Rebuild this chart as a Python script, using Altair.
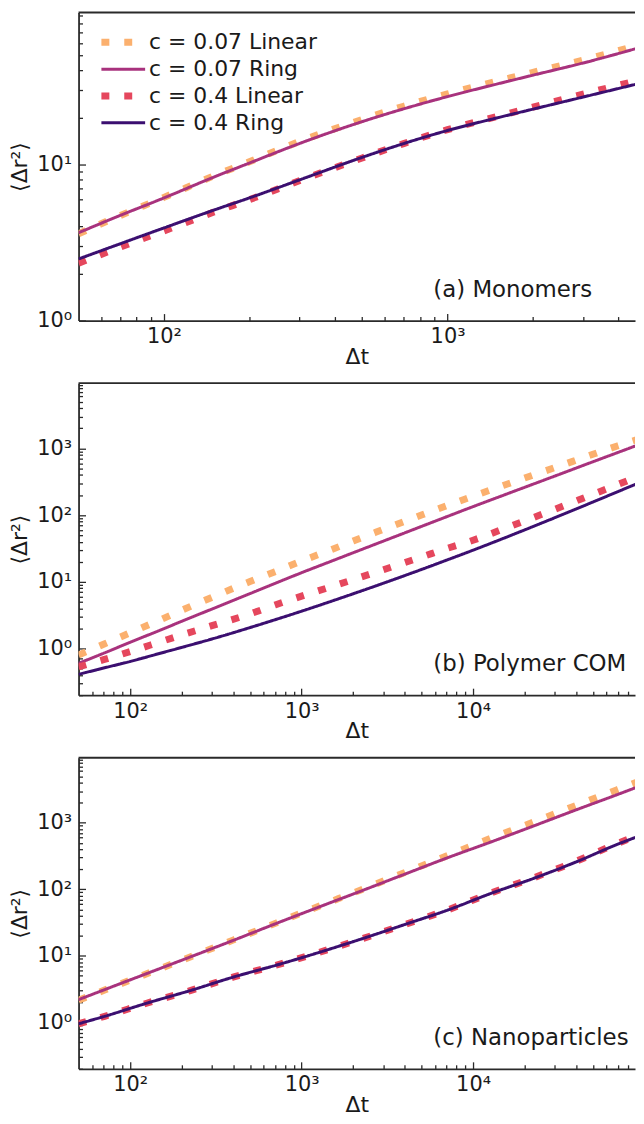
import altair as alt
import pandas as pd

FONT = "DejaVu Sans"
INK = "#1a1a1a"

SERIES = ["c = 0.07 Linear", "c = 0.07 Ring", "c = 0.4 Linear", "c = 0.4 Ring"]
COLORS = ["#fbb06e", "#a8327d", "#e5475d", "#3b0f70"]
DASHES = [[8, 15], [1, 0], [8, 15], [1, 0]]
WIDTHS = [7, 3, 7, 3]

# ---- panel (a) Monomers ----
t_a = [50, 70, 100, 150, 200, 300, 500, 700, 1000, 1500, 2000, 3000, 5000]
a_lin07 = [3.6, 4.7, 6.15, 8.45, 10.4, 14.0, 19.4, 23.6, 28.3, 34.2, 38.9, 46.5, 60.0]
a_ring07 = [3.65, 4.71, 6.1, 8.3, 10.2, 13.6, 18.8, 22.7, 27.2, 32.8, 37.3, 44.6, 57.5]
a_lin04 = [2.33, 2.95, 3.75, 4.95, 5.95, 7.85, 11.0, 13.6, 16.7, 20.3, 23.3, 28.2, 35.5]
a_ring04 = [2.48, 3.1, 3.92, 5.1, 6.1, 7.95, 11.1, 13.6, 16.5, 19.9, 22.6, 27.0, 33.8]

# ---- panel (b) Polymer COM ----
t_b = [50, 70, 100, 150, 200, 300, 500, 700, 1000, 1500, 2000, 3000, 5000, 7000,
       10000, 15000, 20000, 30000, 50000, 70000, 100000]
b_lin07 = [0.8, 1.16, 1.72, 2.7, 3.75, 5.85, 10.1, 14.2, 20.5, 30.5, 41, 61, 100, 138,
           192, 278, 360, 515, 815, 1095, 1465]
b_ring07 = [0.6, 0.85, 1.24, 1.89, 2.56, 3.91, 6.67, 9.47, 13.7, 20.5, 27.3, 40.8, 67.6, 94.4,
            134, 198, 261, 385, 630, 869, 1225]
b_lin04 = [0.53, 0.68, 0.9, 1.26, 1.6, 2.2, 3.3, 4.5, 6.1, 8.5, 10.8, 15.2, 23.5, 31.5,
           42, 62, 82, 122, 205, 288, 415]
b_ring04 = [0.41, 0.51, 0.64, 0.85, 1.04, 1.39, 2.06, 2.7, 3.63, 5.14, 6.62, 9.53, 15.3, 21.1,
            29.8, 44.7, 60, 91.4, 157, 225, 330]

# ---- panel (c) Nanoparticles ----
t_c = [50, 71, 126, 224, 398, 708, 1259, 2290, 4070, 7270, 12600, 22400, 39800, 69300, 95000]
c_lin07 = [2.15, 3.05, 5.4, 9.6, 17.2, 31, 55.5, 101, 182, 330, 580, 1020, 1820, 3150, 4300]
c_ring07 = [2.19, 3.1, 5.45, 9.6, 17.0, 30.5, 54, 97, 172, 305, 510, 890, 1560, 2650, 3600]
c_lin04 = [0.95, 1.23, 1.95, 3.0, 4.77, 7.2, 11.2, 18.3, 30, 50, 87, 148, 263, 487, 665]
c_ring04 = [0.95, 1.23, 1.95, 3.0, 4.77, 7.2, 11.2, 18.3, 30, 49.7, 86, 145, 257, 473, 646]

# ---- tick values ----
x_major_a = [100, 1000]
x_minor_a = [60, 70, 80, 90, 200, 300, 400, 500, 600, 700, 800, 900, 2000, 3000, 4000]
y_major_a = [1, 10]
y_minor_a = [2, 3, 4, 5, 6, 7, 8, 9, 20, 30, 40, 50, 60, 70, 80, 90]

x_major_bc = [100, 1000, 10000]
x_minor_bc = [60, 70, 80, 90, 200, 300, 400, 500, 600, 700, 800, 900,
              2000, 3000, 4000, 5000, 6000, 7000, 8000, 9000,
              20000, 30000, 40000, 50000, 60000, 70000, 80000]
y_major_bc = [1, 10, 100, 1000]
y_minor_bc = [0.2, 0.3, 0.4, 0.5, 0.6, 0.7, 0.8, 0.9, 2, 3, 4, 5, 6, 7, 8, 9,
              20, 30, 40, 50, 60, 70, 80, 90, 200, 300, 400, 500, 600, 700, 800, 900,
              2000, 3000, 4000, 5000, 6000, 7000, 8000, 9000]

SUP = ("datum.value < 5 ? '10⁰' : datum.value < 50 ? '10¹' : "
       "datum.value < 500 ? '10²' : datum.value < 5000 ? '10³' : '10⁴'")

W = 560
SPINE = "#2a2a2a"


def build_panel(t, vals, xdom, ydom, xmaj, xmin, ymaj, ymin, label, h, show_legend):
    rows = []
    for name, v in zip(SERIES, vals):
        for ti, vi in zip(t, v):
            rows.append({"t": ti, "msd": vi, "series": name})
    df = pd.DataFrame(rows)

    xs = alt.Scale(type="log", domain=xdom, nice=False)
    ys = alt.Scale(type="log", domain=ydom, nice=False)

    if show_legend:
        leg = alt.Legend(title=None, orient="none", legendX=34, legendY=19,
                         labelFontSize=22, labelFont=FONT, labelColor=INK,
                         symbolType="M-4,0H4", symbolSize=121, labelOffset=15,
                         rowPadding=2, padding=0, labelLimit=400)
    else:
        leg = None

    layers = []
    for i, name in enumerate(SERIES):
        if i == 0:
            xax = alt.Axis(orient="bottom", values=xmaj, labelExpr=SUP, ticks=False, tickSize=0,
                           title="Δt", labelPadding=5, titlePadding=0,
                           labelFontSize=21, titleFontSize=22, grid=False)
            yax = alt.Axis(orient="left", values=ymaj, labelExpr=SUP, ticks=False, tickSize=0,
                           title="⟨Δr²⟩", labelPadding=7, titlePadding=5,
                           labelFontSize=21, titleFontSize=22, grid=False)
        else:
            xax = None
            yax = None
        layers.append(
            alt.Chart(df)
            .transform_filter(alt.datum.series == name)
            .mark_line(clip=True, interpolate="monotone", strokeCap="butt")
            .encode(
                x=alt.X("t:Q", scale=xs, axis=xax),
                y=alt.Y("msd:Q", scale=ys, axis=yax),
                color=alt.Color("series:N", scale=alt.Scale(domain=SERIES, range=COLORS), legend=leg),
                strokeDash=alt.StrokeDash("series:N", scale=alt.Scale(domain=SERIES, range=DASHES), legend=leg),
                strokeWidth=alt.StrokeWidth("series:N",
                                            scale=alt.Scale(type="ordinal", domain=SERIES, range=WIDTHS),
                                            legend=leg),
            )
        )

    # inward major ticks
    layers.append(
        alt.Chart(df).mark_line(opacity=0, clip=True).encode(
            x=alt.X("t:Q", scale=xs, axis=alt.Axis(orient="bottom", values=xmaj, labels=False, domain=False,
                                                   tickSize=7, offset=-7, title=None, grid=False)),
            y=alt.Y("msd:Q", scale=ys, axis=alt.Axis(orient="left", values=ymaj, labels=False, domain=False,
                                                     tickSize=7, offset=-7, title=None, grid=False)),
        )
    )
    # inward minor ticks
    layers.append(
        alt.Chart(df).mark_line(opacity=0, clip=True).encode(
            x=alt.X("t:Q", scale=xs, axis=alt.Axis(orient="bottom", values=xmin, labels=False, domain=False,
                                                   tickSize=4, offset=-4, title=None, grid=False)),
            y=alt.Y("msd:Q", scale=ys, axis=alt.Axis(orient="left", values=ymin, labels=False, domain=False,
                                                     tickSize=4, offset=-4, title=None, grid=False)),
        )
    )
    # top spine of the frame
    layers.append(
        alt.Chart(pd.DataFrame({"k": [0]}))
        .mark_rule(color=SPINE, strokeWidth=1.8)
        .encode(x=alt.value(0), x2=alt.value(W), y=alt.value(0))
    )
    # panel label
    layers.append(
        alt.Chart(pd.DataFrame({"label": [label]}))
        .mark_text(align="left", baseline="middle", fontSize=23, font=FONT, color=INK)
        .encode(text="label:N", x=alt.value(357), y=alt.value(h - 31))
    )

    return (
        alt.layer(*layers)
        .resolve_axis(x="independent", y="independent")
        .properties(width=W, height=h)
    )


pa = build_panel(t_a, [a_lin07, a_ring07, a_lin04, a_ring04], [50, 4580], [1, 94],
                 x_major_a, x_minor_a, y_major_a, y_minor_a, "(a) Monomers", 310, True)
pb = build_panel(t_b, [b_lin07, b_ring07, b_lin04, b_ring04], [50, 88000], [0.2, 9500],
                 x_major_bc, x_minor_bc, y_major_bc, y_minor_bc, "(b) Polymer COM", 314, False)
pc = build_panel(t_c, [c_lin07, c_ring07, c_lin04, c_ring04], [50, 88000], [0.2, 9500],
                 x_major_bc, x_minor_bc, y_major_bc, y_minor_bc, "(c) Nanoparticles", 313, False)

chart = (
    alt.vconcat(pa, pb, pc, spacing=15)
    .resolve_scale(color="independent", strokeDash="independent", strokeWidth="independent")
    .properties(padding={"left": 0, "top": 0, "right": 0, "bottom": 0}, background="white")
    .configure_view(strokeOpacity=0)
    .configure_axis(labelFont=FONT, titleFont=FONT, labelColor=INK, titleColor=INK,
                    titleFontWeight="normal", domainColor=SPINE, tickColor=SPINE,
                    domainWidth=1.8, tickWidth=1.3)
)

chart.save("out.html", embed_options={"renderer": "svg", "actions": False})
